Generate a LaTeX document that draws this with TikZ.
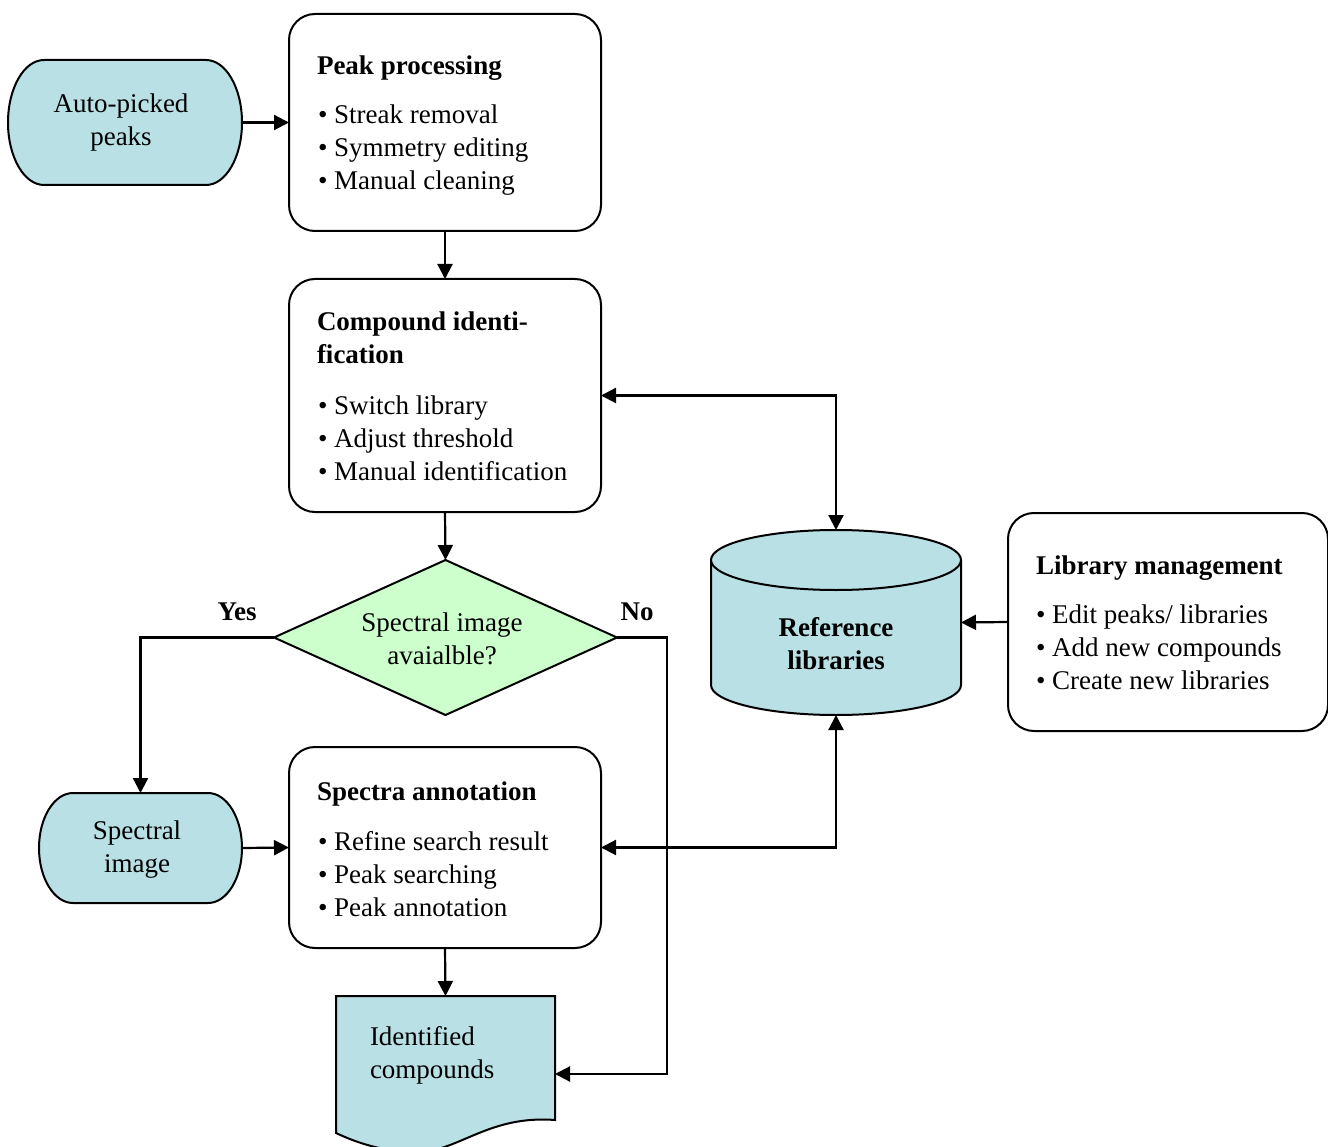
\documentclass[tikz,border=0pt]{standalone}
\usepackage{fontspec}
\setmainfont{Liberation Serif}
\usetikzlibrary{shapes.misc,shapes.geometric,arrows.meta}
\definecolor{termblue}{RGB}{185,224,228}
\definecolor{decgreen}{RGB}{204,255,204}
\begin{document}
\begin{tikzpicture}[x=1pt,y=-1pt,
 every node/.style={inner sep=0pt, outer sep=0pt},
 txt/.style={font=\fontsize{27}{33}\selectfont, anchor=base west},
 ttl/.style={font=\fontsize{27}{33}\selectfont\bfseries, anchor=base west},
 ctr/.style={font=\fontsize{27}{33}\selectfont, align=center},
 procbox/.style={draw, line width=2pt, rounded corners=26pt, fill=white},
 anchorbox/.style={rectangle},
 termline/.style={draw, line width=2pt, fill=termblue},
 flow/.style={line width=2.2pt, -{Triangle[length=15pt,width=15pt]}},
 bothflow/.style={line width=2.2pt, {Triangle[length=15pt,width=15pt]}-{Triangle[length=15pt,width=15pt]}},
]
\useasboundingbox (0,0) rectangle (1328,1147);

% terminators (stadiums with elliptical ends)
\path[termline] (44,60) -- (206,60) arc[start angle=90, end angle=-90, x radius=36pt, y radius=62.5pt]
  -- (44,185) arc[start angle=270, end angle=90, x radius=36pt, y radius=62.5pt] -- cycle;
\node[anchorbox, minimum width=234pt, minimum height=125pt] (auto) at (125,122.5) {};
\node[ctr] (autotxt) at (121,123) {Auto-picked\\peaks};

\path[termline] (73,793) -- (208,793) arc[start angle=90, end angle=-90, x radius=34pt, y radius=55pt]
  -- (73,903) arc[start angle=270, end angle=90, x radius=34pt, y radius=55pt] -- cycle;
\node[anchorbox, minimum width=203pt, minimum height=110pt] (spec) at (140.5,848) {};
\node[ctr] (spectxt) at (137,850) {Spectral\\image};

% process boxes
\node[procbox, minimum width=312pt, minimum height=217pt] (pp) at (445,122.5) {};
\node[ttl] (pptitle) at (317,75) {Peak processing};
\node[txt] (pp1) at (318,124) {• Streak removal};
\node[txt] (pp2) at (318,157) {• Symmetry editing};
\node[txt] (pp3) at (318,190) {• Manual cleaning};

\node[procbox, minimum width=312pt, minimum height=233pt] (ci) at (445,395.5) {};
\node[ttl] (cititle1) at (317,331) {Compound identi-};
\node[ttl] (cititle2) at (317,364) {fication};
\node[txt] (ci1) at (318,414) {• Switch library};
\node[txt] (ci2) at (318,447) {• Adjust threshold};
\node[txt] (ci3) at (318,480) {• Manual identification};

\node[procbox, minimum width=312pt, minimum height=201pt] (sa) at (445,847.5) {};
\node[ttl] (satitle) at (317,800) {Spectra annotation};
\node[txt] (sa1) at (318,850) {• Refine search result};
\node[txt] (sa2) at (318,883) {• Peak searching};
\node[txt] (sa3) at (318,916) {• Peak annotation};

\node[procbox, minimum width=320pt, minimum height=218pt] (lm) at (1168,622) {};
\node[ttl] (lmtitle) at (1036,574) {Library management};
\node[txt] (lm1) at (1036,623) {• Edit peaks/ libraries};
\node[txt] (lm2) at (1036,656) {• Add new compounds};
\node[txt] (lm3) at (1036,689) {• Create new libraries};

% decision
\node[diamond, draw, line width=2pt, fill=decgreen, minimum width=343pt, minimum height=155pt] (dec) at (445.5,637.5) {};
\node[ctr] (dectxt) at (442,639) {Spectral image\\avaialble?};
\node[font=\fontsize{27}{33}\selectfont\bfseries] (yes) at (237,612) {Yes};
\node[font=\fontsize{27}{33}\selectfont\bfseries] (no) at (637,612) {No};

% reference libraries cylinder
\fill[termblue] (711,560) -- (711,685) arc[start angle=180, end angle=360, x radius=125pt, y radius=30pt] -- (961,560) -- cycle;
\draw[line width=2pt] (711,560) -- (711,685) arc[start angle=180, end angle=360, x radius=125pt, y radius=30pt] -- (961,560);
\draw[line width=2pt, fill=termblue] (836,560) ellipse [x radius=125pt, y radius=30pt];
\node[anchorbox, minimum width=250pt, minimum height=185pt] (ref) at (836,622.5) {};
\node[ctr, font=\fontsize{27}{33}\selectfont\bfseries] (reftxt) at (836,644) {Reference\\libraries};

% identified compounds document
\draw[line width=2pt, fill=termblue] (336,996) -- (555,996) -- (555,1120)
  .. controls (490,1115) and (460,1150) .. (420,1152)
  .. controls (385,1153) and (355,1142) .. (336,1133) -- cycle;
\node[anchorbox, minimum width=219pt, minimum height=137pt] (idc) at (445.5,1064.5) {};
\node[txt] (idc1) at (370,1045) {Identified};
\node[txt] (idc2) at (370,1078) {compounds};
\coordinate (idcin) at (555,1074);
\coordinate (nocorner) at (667,1074);

% connectors
\draw[flow] (auto.east) -- (pp.west);
\draw[flow] (pp.south) -- (ci.north);
\draw[flow] (ci.south) -- (dec.north);
\draw[flow] (dec.west) -| (spec.north);
\draw[flow] (dec.east) -| (nocorner) -- (idcin);
\draw[flow] (spec.east) -- (sa.west);
\draw[flow] (sa.south) -- (idc.north);
\draw[bothflow] (ci.east) -| (ref.north);
\draw[bothflow] (sa.east) -| (ref.south);
\draw[flow] (lm.west) -- (ref.east);
\end{tikzpicture}
\end{document}
